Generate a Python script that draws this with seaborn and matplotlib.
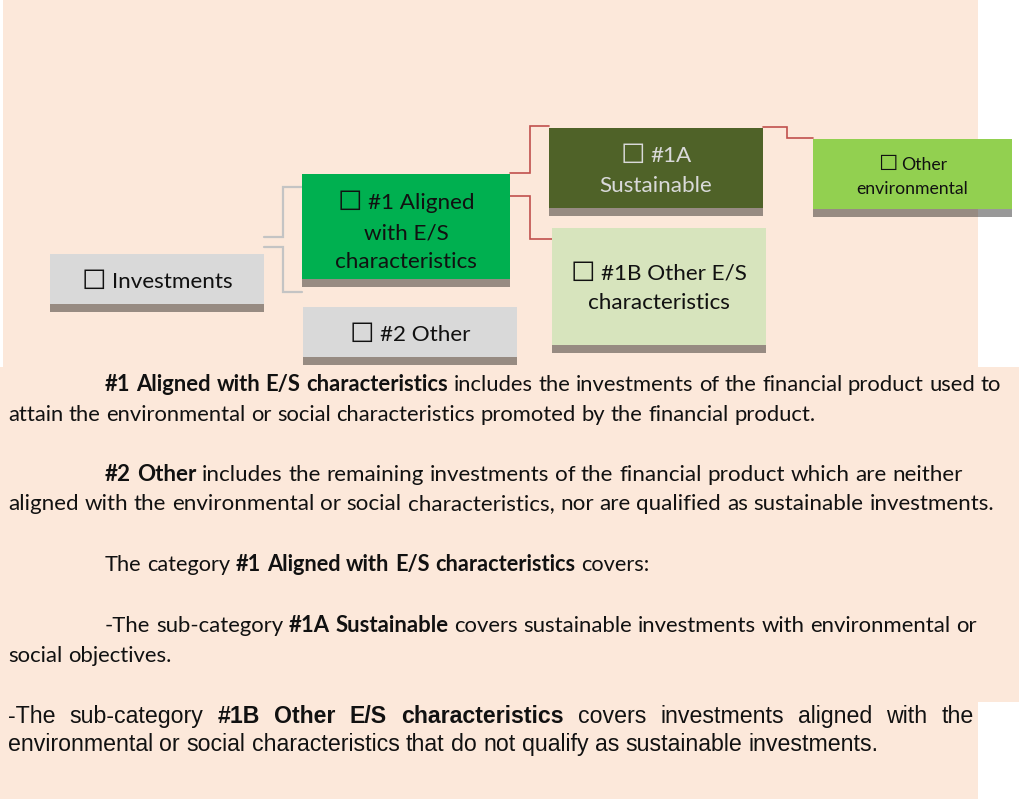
import matplotlib
matplotlib.use("Agg")
import matplotlib.pyplot as plt
from matplotlib.patches import Rectangle
import seaborn as sns

# ---------------- data ----------------
box_labels = [
    ["☐ Investments"],
    ["☐ #1 Aligned", "with E/S", "characteristics"],
    ["☐ #2 Other"],
    ["☐ #1A", "Sustainable"],
    ["☐ #1B Other E/S", "characteristics"],
    ["☐ Other", "environmental"],
]
box_colors = ["#D9D9D9", "#00B050", "#D9D9D9", "#4F6228", "#D7E4BD", "#92D050"]
box_text_colors = ["#111111", "#111111", "#111111", "#D9D9D9", "#111111", "#111111"]

para1 = [[("#1 Aligned with E/S characteristics", "bold"),
          ("includes the investments of the financial product used to", "normal")],
         [("attain the environmental or social characteristics promoted by the financial product.", "normal")]]
para2 = [[("#2 Other", "bold"),
          ("includes the remaining investments of the financial product which are neither", "normal")],
         [("aligned with the environmental or social characteristics, nor are qualified as sustainable investments.", "normal")]]
para3 = [[("The category", "normal"), ("#1 Aligned with E/S characteristics", "bold"), ("covers:", "normal")]]
para4 = [[("-The sub-category", "normal"), ("#1A Sustainable", "bold"),
          ("covers sustainable investments with environmental or", "normal")],
         [("social objectives.", "normal")]]
para5 = [[("-The sub-category", "normal"), ("#1B Other E/S characteristics", "bold"),
          ("covers investments aligned with the", "normal")],
         [("environmental or social characteristics that do not qualify as sustainable investments.", "normal")]]

# ---------------- layout (pixels) ----------------
W, H = 1019, 799
box_rects = [(50, 254, 264, 304), (302, 174, 510, 279), (303, 307, 517, 357),
             (549, 128, 763, 208), (552, 228, 766, 345), (813, 139, 1012, 209)]
box_baselines = [[288], [209, 239, 268], [341], [162, 192], [280, 309], [170, 194]]
SHADOW = 8

gray_links = [[(264, 237), (283, 237), (283, 187), (302, 187)],
              [(264, 247), (283, 247), (283, 292), (302, 292)]]
red_links = [[(510, 173), (530, 173), (530, 126), (549, 126)],
             [(510, 196), (530, 196), (530, 239), (552, 239)],
             [(763, 127), (787, 127), (787, 138), (813, 138)]]

sns.set_theme(style="white")
plt.rcParams['font.family'] = ['Lato', 'DejaVu Sans']

fig = plt.figure(figsize=(W / 100, H / 100), dpi=100)
fig.patch.set_facecolor("white")
ax = fig.add_axes([0, 0, 1, 1])
ax.set_xlim(0, W)
ax.set_ylim(H, 0)
ax.axis("off")
renderer = fig.canvas.get_renderer()

PEACH = "#FCE8DA"
for (x0, y0, x1, y1) in [(3, 0, 978, 367), (0, 367, 1019, 702), (0, 702, 978, 799)]:
    ax.add_patch(Rectangle((x0, y0), x1 - x0, y1 - y0, facecolor=PEACH, edgecolor="none", zorder=0))


def text_width(s, size, weight="normal", family=("Lato",)):
    t = ax.text(0, 0, s, fontsize=size, fontweight=weight, family=list(family))
    w = t.get_window_extent(renderer).width
    t.remove()
    return w


# connectors
for pts in gray_links:
    ax.plot([p[0] for p in pts], [p[1] for p in pts], color="#C4C4C4", lw=1.6, zorder=1,
            solid_joinstyle="miter")
for pts in red_links:
    ax.plot([p[0] for p in pts], [p[1] for p in pts], color="#C0504D", lw=1.2, zorder=1,
            solid_joinstyle="miter")

# boxes
box_family = ["Lato", "DejaVu Sans"]
main_size = 16 * 121 / text_width("Investments", 16, family=box_family)
small_size = 16 * 112 / text_width("environmental", 16, family=box_family)
for i, ((x0, y0, x1, y1), lines, col, tcol) in enumerate(
        zip(box_rects, box_labels, box_colors, box_text_colors)):
    ax.add_patch(Rectangle((x0, y0), x1 - x0, y1 - y0, facecolor=col, edgecolor="none", zorder=2))
    ax.add_patch(Rectangle((x0, y1), x1 - x0, SHADOW, facecolor="black", alpha=0.4,
                           edgecolor="none", zorder=2))
    size = small_size if i == 5 else main_size
    cx = (x0 + x1) / 2
    for line, yb in zip(lines, box_baselines[i]):
        if line.startswith("☐ "):
            gsize = size * 1.22
            rest = line[2:]
            wg = text_width("☐", gsize, family=["DejaVu Sans"])
            wsp = text_width("a a", size, family=box_family) - text_width("aa", size, family=box_family)
            wr = text_width(rest, size, family=box_family)
            xs = cx - (wg + wsp + wr) / 2
            ax.text(xs, yb + size * 0.03, "☐", ha="left", va="baseline", fontsize=gsize,
                    color=tcol, family=["DejaVu Sans"], zorder=3)
            ax.text(xs + wg + wsp, yb, rest, ha="left", va="baseline", fontsize=size,
                    color=tcol, family=box_family, zorder=3)
        else:
            ax.text(cx, yb, line, ha="center", va="baseline", fontsize=size,
                    color=tcol, family=box_family, zorder=3)


# paragraphs
def tokens_of(runs):
    toks = []
    for s, w in runs:
        for word in s.split(" "):
            if word:
                toks.append((word, w))
    return toks


def natural_width(runs, size, family):
    toks = tokens_of(runs)
    sp = text_width("a a", size, family=family) - text_width("aa", size, family=family)
    return sum(text_width(t, size, w, family) for t, w in toks) + sp * (len(toks) - 1)


def draw_line(x, yb, runs, size, family, justify_to=None):
    toks = tokens_of(runs)
    widths = [text_width(t, size, w, family) for t, w in toks]
    sp = text_width("a a", size, family=family) - text_width("aa", size, family=family)
    if justify_to is not None and len(toks) > 1:
        sp = (justify_to - x - sum(widths)) / (len(toks) - 1)
    for (t, w), tw in zip(toks, widths):
        ax.text(x, yb, t, ha="left", va="baseline", fontsize=size, fontweight=w,
                family=list(family), color="#111111", zorder=3)
        x += tw + sp


def fit_size(runs, x_start, x_end, family):
    return 14 * (x_end - x_start) / natural_width(runs, 14, family)


LATO = ("Lato",)
ARIAL = ("Liberation Sans",)

s1 = fit_size(para1[0], 105, 1005, LATO)
draw_line(105, 391, para1[0], s1, LATO)
draw_line(8, 421, para1[1], s1, LATO)

s2 = fit_size(para2[1], 8, 993, LATO)
draw_line(105, 481, para2[0], s2, LATO)
draw_line(8, 510, para2[1], s2, LATO)

s3 = fit_size(para3[0], 105, 653, LATO)
draw_line(105, 571, para3[0], s3, LATO)

s4 = fit_size(para4[0], 105, 978, LATO)
draw_line(105, 632, para4[0], s4, LATO)
draw_line(8, 662, para4[1], s4, LATO)

s5 = fit_size(para5[1], 8, 887, ARIAL)
draw_line(8, 723, para5[0], s5, ARIAL, justify_to=974)
draw_line(8, 751, para5[1], s5, ARIAL)

fig.savefig("out.png", dpi=100, facecolor="white")
